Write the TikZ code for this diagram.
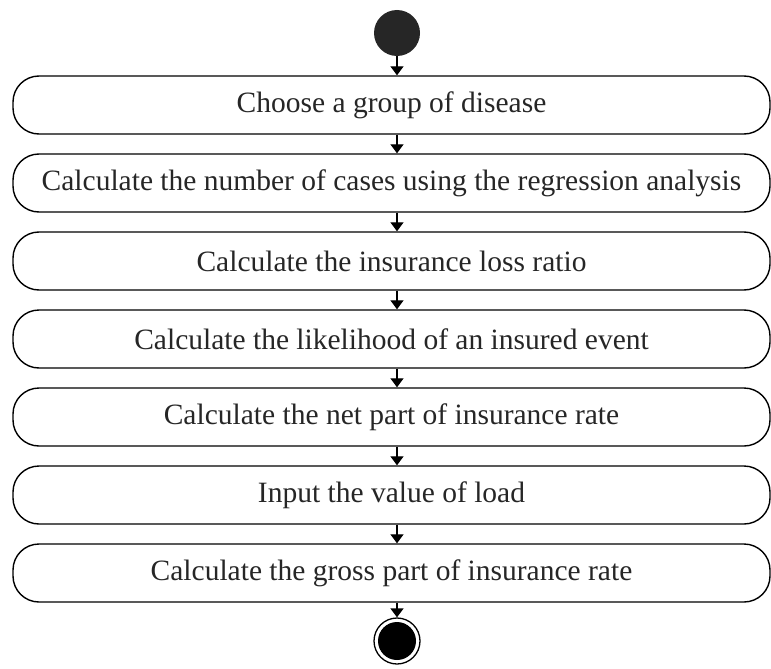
\documentclass[tikz,border=0pt]{standalone}
\usepackage{fontspec}
\setmainfont{Liberation Serif}
\usetikzlibrary{arrows.meta}
\begin{document}
\begin{tikzpicture}[x=1pt,y=-1pt,
  actbox/.style={draw, line width=1.4pt, rounded corners=26pt, minimum width=757pt, minimum height=58pt, inner sep=0pt, font=\fontsize{29.5}{32}\selectfont, text=black!85},
  flow/.style={line width=1.3pt, -{Triangle[width=13pt,length=9pt]}}]
\useasboundingbox (0,0) rectangle (771,669);
\node[circle, fill=black!85, minimum size=46pt, inner sep=0pt] (start) at (397,33) {};
\node[actbox] (b1) at (391.5,105) {Choose a group of disease};
\node[actbox] (b2) at (391.5,183) {Calculate the number of cases using the regression analysis};
\node[actbox] (b3) at (391.5,261) {Calculate the insurance loss ratio};
\node[actbox] (b4) at (391.5,339) {Calculate the likelihood of an insured event};
\node[actbox] (b5) at (391.5,417) {Calculate the net part of insurance rate};
\node[actbox] (b6) at (391.5,495) {Input the value of load};
\node[actbox] (b7) at (391.5,573) {Calculate the gross part of insurance rate};
\node[circle, draw, line width=1.3pt, minimum size=46pt, inner sep=0pt] (stop) at (397,641) {};
\node[circle, fill=black, minimum size=38pt, inner sep=0pt] (stopin) at (397,641) {};
\draw[flow] (start.south) -- (start.south |- b1.north);
\draw[flow] (b1.south -| start) -- (b2.north -| start);
\draw[flow] (b2.south -| start) -- (b3.north -| start);
\draw[flow] (b3.south -| start) -- (b4.north -| start);
\draw[flow] (b4.south -| start) -- (b5.north -| start);
\draw[flow] (b5.south -| start) -- (b6.north -| start);
\draw[flow] (b6.south -| start) -- (b7.north -| start);
\draw[flow] (b7.south -| start) -- (stop.north);
\end{tikzpicture}
\end{document}
